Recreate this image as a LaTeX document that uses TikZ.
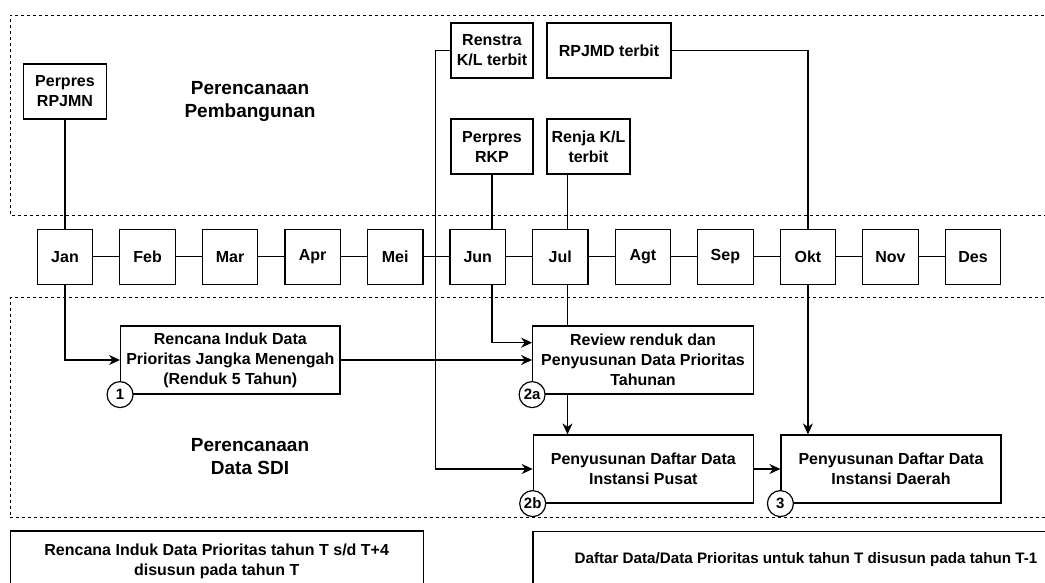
\documentclass[tikz,border=0pt]{standalone}
\usepackage{fontspec}
\setmainfont{Liberation Sans}
\usetikzlibrary{arrows.meta}

\tikzset{
  box/.style={draw, align=center, inner sep=1pt, font=\fontsize{16}{20}\selectfont\bfseries},
  month/.style={box, minimum width=55.5pt, minimum height=55pt},
  badge/.style={draw, circle, fill=white, minimum size=26pt, inner sep=0pt, font=\fontsize{15}{18}\selectfont\bfseries},
  region/.style={dash pattern=on 3pt off 3pt, line width=0.9pt},
  heading/.style={align=center, font=\fontsize{19}{23}\selectfont\bfseries},
  arrow/.style={-{Stealth[length=11pt,width=10pt,inset=3.5pt]}}
}

\begin{document}
\begin{tikzpicture}[x=1pt, y=-1pt, line width=1.2pt]
\useasboundingbox (0,0) rectangle (1045,583);
\clip (0,0) rectangle (1045,583);

% the two planning areas
\draw [region] (1050,15) -- (10,15) -- (10,215) -- (1050,215);
\draw [region] (1050,297.7) -- (10,297.7) -- (10,517.3) -- (1050,517.3);
\node [heading] (pembangunan) at (250,101) {Perencanaan\\Pembangunan};
\node [heading] (sdi) at (250,457) {Perencanaan\\Data SDI};

% events
\node [box, minimum width=83pt, minimum height=55pt] (rpjmn) at (65,91.5) {Perpres\\RPJMN};
\node [box, minimum width=82pt, minimum height=55pt] (renstra) at (492,50.5) {Renstra\\K/L terbit};
\node [box, minimum width=124pt, minimum height=55pt] (rpjmd) at (609,50.5) {RPJMD terbit};
\node [box, minimum width=82pt, minimum height=55pt] (rkp) at (492,146.5) {Perpres\\RKP};
\node [box, minimum width=83pt, minimum height=55pt] (renja) at (588.5,146.5) {Renja K/L\\terbit};

% months
\foreach \m [count=\i from 0] in {Jan,Feb,Mar,Apr,Mei,Jun,Jul,Agt,Sep,Okt,Nov,Des} {
    \node [month] (\m) at ({65+82.55*\i},256.7) {\m};
}
\foreach \m [remember=\m as \prev (initially Jan)] in {Feb,Mar,Apr,Mei,Jun,Jul,Agt,Sep,Okt,Nov,Des} {
    \draw (\prev) -- (\m);
}

% data planning steps
\node [box, minimum width=219.3pt, minimum height=68pt] (renduk) at (230.3,360) {Rencana Induk Data\\Prioritas Jangka Menengah\\(Renduk 5 Tahun)};
\node [box, minimum width=220.6pt, minimum height=68pt] (review) at (643,360) {Review renduk dan\\Penyusunan Data Prioritas\\Tahunan};
\node [box, minimum width=220pt, minimum height=68pt] (pusat) at (643.3,469) {Penyusunan Daftar Data\\Instansi Pusat};
\node [box, minimum width=220pt, minimum height=68pt] (daerah) at (891,469) {Penyusunan Daftar Data\\Instansi Daerah};

% notes
\node [box, minimum width=413pt, minimum height=61.4pt] (noteT) at (216.7,561.7) {Rencana Induk Data Prioritas tahun T s/d T+4\\disusun pada tahun T};
\node [box, minimum width=546pt, minimum height=56.6pt, font=\fontsize{15.2}{19}\selectfont\bfseries] (noteTmin) at (806,560) {Daftar Data/Data Prioritas untuk tahun T disusun pada tahun T-1};

% connectors
\coordinate (julaxis) at (567.5,0);
\draw (rpjmn) -- (Jan);
\draw (rkp) -- (rkp |- Jun.north);
\draw (renja.south -| julaxis) -- (Jul.north -| julaxis);
\draw (rpjmd) -| (Okt);
\draw [arrow] (renstra.west) -- ++(-15,0) |- (pusat);
\draw [arrow] (Jan) |- (renduk);
\draw [arrow] (Jun.south -| rkp) |- ([yshift=17.3pt]review.west);
\draw [arrow] (renduk) -- (review);
\draw (Jul.south -| julaxis) -- (review.north -| julaxis);
\draw [arrow] (review.south -| julaxis) -- (pusat.north -| julaxis);
\draw [arrow] (pusat) -- (daerah);
\draw [arrow] (Okt) -- (Okt |- daerah.north);

% step numbers
\node [badge] (n1) at (renduk.south west) {1};
\node [badge] (n2a) at (review.south west) {2a};
\node [badge] (n2b) at (pusat.south west) {2b};
\node [badge] (n3) at (daerah.south west) {3};

\end{tikzpicture}
\end{document}
